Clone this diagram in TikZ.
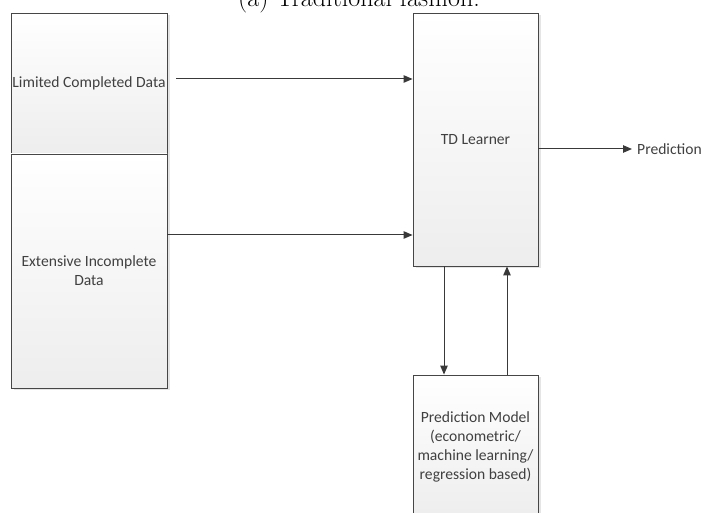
\documentclass[tikz,border=0pt]{standalone}
\usepackage{fontspec}
\newfontfamily\boxfont{Carlito}
\usetikzlibrary{arrows.meta,shadows}

\begin{document}
\begin{tikzpicture}[x=1pt,y=-1pt,>={Triangle[length=9pt,width=7.5pt]}]
    \tikzset{
      box/.style={draw=gray!55!black, line width=0.9pt, top color=white, bottom color=gray!14,
        drop shadow={shadow xshift=2.5pt, shadow yshift=-2.5pt, fill=gray!40, opacity=0.5},
        inner sep=1pt, align=center, font=\boxfont\fontsize{15.6}{19}\selectfont, text=black!75},
      arrow/.style={->, draw=gray!45!black, line width=1pt}
    }
    \useasboundingbox (0,0) rectangle (705,513);
    % caption, cut off by the page edge
    \node[anchor=base, font=\fontsize{26}{30}\selectfont] (cap) at (359,6.5) {(a) Traditional fashion.};
    \node[box, minimum width=156pt, minimum height=141pt] (lcd) at (89,83.5) {Limited Completed Data};
    \node[box, minimum width=156pt, minimum height=234pt] (eid) at (89,271) {Extensive Incomplete\\Data};
    \node[box, minimum width=125pt, minimum height=253pt] (td) at (475.5,139.5) {TD Learner};
    \node[box, minimum width=125pt, minimum height=144pt] (pm) at (475.5,447) {Prediction Model\\(econometric/\\machine learning/\\regression based)};
    \node[anchor=west, inner sep=0pt, font=\boxfont\fontsize{15.6}{19}\selectfont, text=black!75] (pred) at (637,149) {Prediction};
    \draw[arrow, shorten <=9pt] ([yshift=4.5pt]lcd.east) -- ([yshift=4.5pt]lcd.east -| td.west);
    \draw[arrow] ([yshift=36pt]eid.east) -- ([yshift=36pt]eid.east -| td.west);
    \draw[arrow] ([yshift=-9.5pt]td.east) -- ([xshift=-5pt]pred.west);
    \draw[arrow] ([xshift=-31.5pt]td.south) -- ([xshift=-31.5pt]pm.north);
    \draw[arrow] ([xshift=31.5pt]pm.north) -- ([xshift=31.5pt]td.south);
  \end{tikzpicture}
\end{document}
